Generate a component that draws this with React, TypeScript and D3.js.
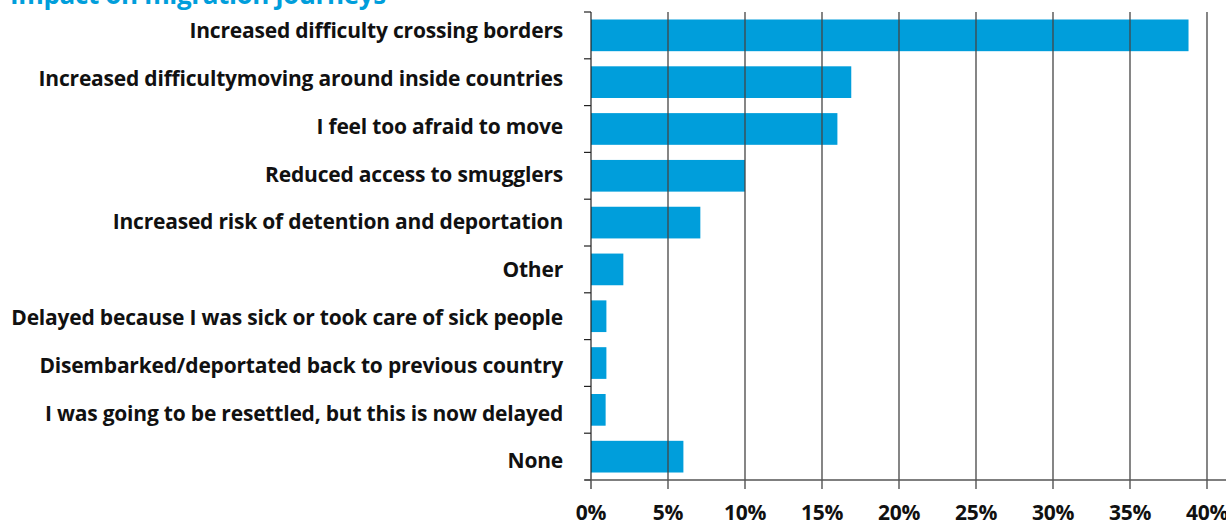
import React from "react";
import * as d3 from "d3";

const title = "Impact on migration journeys";
const categories = [
  "Increased difficulty crossing borders",
  "Increased difficultymoving around inside countries",
  "I feel too afraid to move",
  "Reduced access to smugglers",
  "Increased risk of detention and deportation",
  "Other",
  "Delayed because I was sick or took care of sick people",
  "Disembarked/deportated back to previous country",
  "I was going to be resettled, but this is now delayed",
  "None",
];
const values = [38.8, 16.9, 16, 10, 7.1, 2.1, 1, 1, 0.95, 6];
const ticks = [0, 5, 10, 15, 20, 25, 30, 35, 40];

const W = 1226;
const H = 522;
const left = 591;
const right = 1207;
const top = 12;
const bottom = 480;
const blue = "#009edb";
const font = "'Open Sans', Lato, sans-serif";

export default function App() {
  const x = d3.scaleLinear().domain([0, 40]).range([left, right]);
  const y = d3
    .scaleBand<string>()
    .domain(categories)
    .range([top, bottom])
    .paddingInner(0.323)
    .paddingOuter(0.16);
  const yLabel = d3.scalePoint<string>().domain(categories).range([38.3, 468.3]);
  const step = (bottom - top) / categories.length;
  const boundaries = d3.range(categories.length + 1).map((i) => top + i * step);

  return (
    <svg
      width={W}
      height={H}
      style={{ position: "fixed", left: 0, top: 0, background: "#fff" }}
      fontFamily={font}
    >
      <rect width={W} height={H} fill="#fff" />
      <text x={10} y={4} fontSize={26} fontWeight={700} fill={blue} letterSpacing={-0.35}>
        {title}
      </text>
      {categories.map((c, i) => (
        <rect
          key={c}
          x={x(0)}
          y={y(c)}
          width={x(values[i]) - x(0)}
          height={y.bandwidth()}
          fill={blue}
        />
      ))}
      {ticks.slice(1).map((t) => (
        <line
          key={t}
          x1={x(t)}
          x2={x(t)}
          y1={top}
          y2={bottom + 9}
          stroke="#444"
          strokeWidth={1.3}
        />
      ))}
      <line x1={x(0)} x2={x(0)} y1={top} y2={bottom + 9} stroke="#222" strokeWidth={1.2} />
      {boundaries.map((b, i) => (
        <line key={i} x1={x(0) - 7} x2={x(0)} y1={b} y2={b} stroke="#222" strokeWidth={1.2} />
      ))}
      <line x1={x(0) - 6} x2={W} y1={bottom} y2={bottom} stroke="#555" strokeWidth={1.5} />
      {categories.map((c) => (
        <text
          key={c}
          x={563}
          y={yLabel(c)}
          textAnchor="end"
          fontSize={21}
          fontWeight={700}
          letterSpacing={-0.2}
          fill="#111"
        >
          {c}
        </text>
      ))}
      {ticks.map((t) => (
        <text
          key={t}
          x={x(t)}
          y={519.5}
          textAnchor="middle"
          fontSize={21}
          fontWeight={700}
          letterSpacing={-0.3}
          fill="#111"
        >
          {t}%
        </text>
      ))}
    </svg>
  );
}
